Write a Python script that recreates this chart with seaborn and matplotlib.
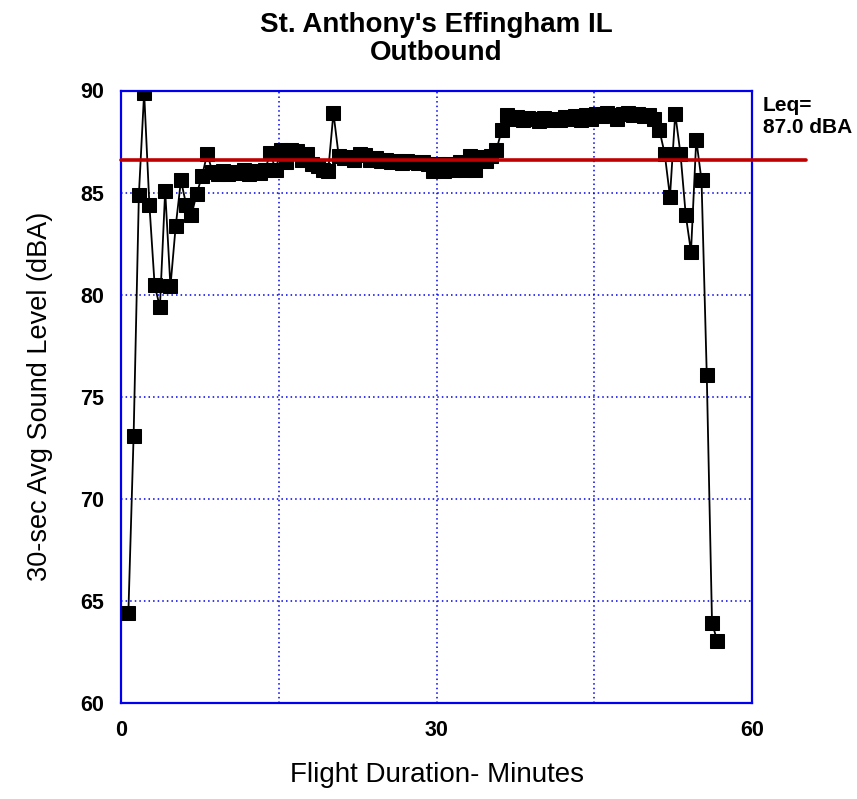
import matplotlib
matplotlib.use("Agg")
import matplotlib.pyplot as plt
import seaborn as sns
import pandas as pd

# ---- data ----
minutes = [
    0.7, 1.2, 1.7, 2.2, 2.7, 3.2, 3.7, 4.2, 4.7, 5.2,
    5.7, 6.2, 6.7, 7.2, 7.7, 8.2, 8.7, 9.2, 9.7, 10.2,
    10.7, 11.2, 11.7, 12.2, 12.7, 13.2, 13.7, 14.2, 14.7, 15.2,
    15.7, 16.2, 16.7, 17.2, 17.7, 18.2, 18.7, 19.2, 19.7, 20.2,
    20.7, 21.2, 21.7, 22.2, 22.7, 23.2, 23.7, 24.2, 24.7, 25.2,
    25.7, 26.2, 26.7, 27.2, 27.7, 28.2, 28.7, 29.2, 29.7, 30.2,
    30.7, 31.2, 31.7, 32.2, 32.7, 33.2, 33.7, 34.2, 34.7, 35.2,
    35.7, 36.2, 36.7, 37.2, 37.7, 38.2, 38.7, 39.2, 39.7, 40.2,
    40.7, 41.2, 41.7, 42.2, 42.7, 43.2, 43.7, 44.2, 44.7, 45.2,
    45.7, 46.2, 46.7, 47.2, 47.7, 48.2, 48.7, 49.2, 49.7, 50.2,
    50.7, 51.2, 51.7, 52.2, 52.7, 53.2, 53.7, 54.2, 54.7, 55.2,
    55.7, 56.2, 56.7,
]
sound_level = [
    64.4, 73.1, 84.9, 89.9, 84.4, 80.45, 79.4, 85.1, 80.4, 83.35,
    85.6, 84.4, 83.9, 84.95, 85.8, 86.9, 86.0, 85.9, 86.05, 85.9,
    86.0, 85.95, 86.1, 85.9, 86.05, 85.95, 86.1, 86.95, 86.1, 87.1,
    86.5, 87.1, 87.05, 86.6, 86.9, 86.4, 86.3, 86.1, 86.05, 88.9,
    86.8, 86.7, 86.75, 86.6, 86.9, 86.85, 86.6, 86.7, 86.55, 86.6,
    86.5, 86.55, 86.45, 86.55, 86.5, 86.45, 86.5, 86.4, 86.05, 86.4,
    86.05, 86.4, 86.1, 86.5, 86.1, 86.8, 86.1, 86.75, 86.55, 86.8,
    87.1, 88.05, 88.8, 88.6, 88.7, 88.55, 88.65, 88.6, 88.5, 88.65,
    88.55, 88.6, 88.55, 88.7, 88.6, 88.75, 88.55, 88.8, 88.6, 88.85,
    88.75, 88.9, 88.8, 88.6, 88.85, 88.9, 88.8, 88.85, 88.75, 88.8,
    88.6, 88.05, 86.9, 84.8, 88.85, 86.9, 83.9, 82.1, 87.6, 85.6,
    76.05, 63.9, 63.05,
]
leq_line_level = 86.6
leq_label = "Leq=\n87.0 dBA"
title = "St. Anthony's Effingham IL\nOutbound"
x_label = "Flight Duration- Minutes"
y_label = "30-sec Avg Sound Level (dBA)"
x_ticks = [0, 15, 30, 45, 60]
x_tick_labels = ["0", "", "30", "", "60"]
y_ticks = [60, 65, 70, 75, 80, 85, 90]

df = pd.DataFrame({"minutes": minutes, "level": sound_level})

sns.set_style("white")
plt.rcParams["font.family"] = ["Liberation Sans", "DejaVu Sans"]
plt.rcParams["text.color"] = "black"
plt.rcParams["axes.labelcolor"] = "black"
plt.rcParams["xtick.color"] = "black"
plt.rcParams["ytick.color"] = "black"

W, H = 857, 799
fig = plt.figure(figsize=(W / 100, H / 100), dpi=100)
left, right, top, bottom = 121, 752, 90.5, 703
ax = fig.add_axes([left / W, 1 - bottom / H, (right - left) / W, (bottom - top) / H])

blue = "#0000EE"
ax.set_xlim(0, 60)
ax.set_ylim(60, 90)
ax.set_xticks(x_ticks)
ax.set_xticklabels(x_tick_labels)
ax.set_yticks(y_ticks)
ax.grid(True, color=blue, linestyle=(0, (1, 2)), linewidth=1.1)
for s in ax.spines.values():
    s.set_visible(True)
    s.set_color(blue)
    s.set_linewidth(1.6)
ax.tick_params(direction="in", length=7, width=1.4, color=blue,
               labelcolor="black", labelsize=15.5, pad=12)
for lab in ax.get_xticklabels() + ax.get_yticklabels():
    lab.set_fontweight("bold")

sns.lineplot(data=df, x="minutes", y="level", ax=ax, color="black",
             linewidth=1.3, marker="s", markersize=10.5,
             markerfacecolor="black", markeredgecolor="black",
             estimator=None, sort=False, zorder=3)

ax.plot([0, 65.1], [leq_line_level, leq_line_level], color="#C00000",
        linewidth=2.6, clip_on=False, zorder=4)
ax.text(61.0, 89.75, leq_label, fontsize=15, fontweight="bold",
        va="top", ha="left", linespacing=1.2, color="black")

ax.set_title(title, fontsize=20, fontweight="bold", pad=22,
             linespacing=1.1, color="black")
ax.set_xlabel(x_label, fontsize=20, color="black")
ax.set_ylabel(y_label, fontsize=19.5, color="black")
ax.xaxis.set_label_coords(0.5, -0.118)
ax.xaxis.label.set_va("center")
ax.yaxis.set_label_coords(-0.128, 0.5)
ax.yaxis.label.set_va("center")

fig.savefig("out.png", dpi=100)
